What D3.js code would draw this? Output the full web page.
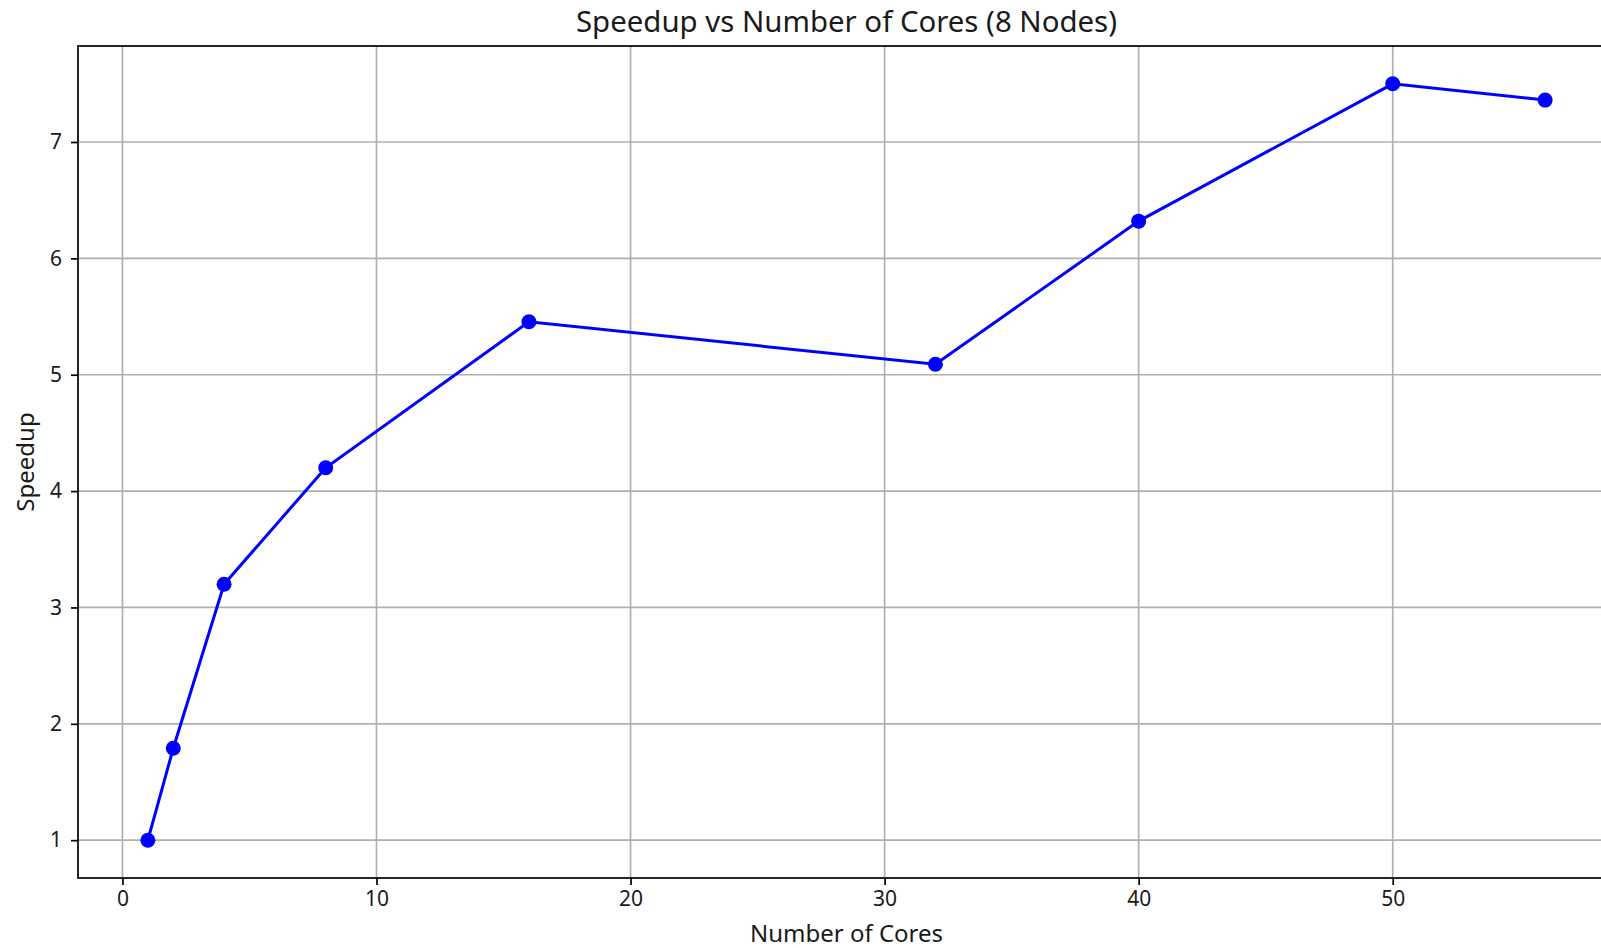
<!DOCTYPE html>
<html><head><meta charset="utf-8">
<script src="https://cdn.jsdelivr.net/npm/d3@7"></script>
<style>
html,body{margin:0;padding:0;background:#fff;overflow:hidden}
text{font-family:"Noto Sans","DejaVu Sans",sans-serif;fill:#1a1a1a}
</style></head>
<body>
<svg id="c" width="1601" height="948"></svg>
<script>
const cores = [1, 2, 4, 8, 16, 32, 40, 50, 56];
const speedup = [1.0, 1.79, 3.2, 4.2, 5.455, 5.09, 6.32, 7.5, 7.36];
const xTicks = [0, 10, 20, 30, 40, 50];
const yTicks = [1, 2, 3, 4, 5, 6, 7];
const titleText = "Speedup vs Number of Cores (8 Nodes)";
const xLabel = "Number of Cores";
const yLabel = "Speedup";

const svg = d3.select("#c");
const L = 78, T = 46, R = 1615, B = 878;
const x = d3.scaleLinear().domain([-1.75, 58.75]).range([L, R]);
const y = d3.scaleLinear().domain([0.675, 7.825]).range([B, T]);

// grid
const g = svg.append("g");
g.selectAll(".gx").data(xTicks).enter().append("line")
  .attr("x1", d => x(d)).attr("x2", d => x(d)).attr("y1", T).attr("y2", B)
  .attr("stroke", "#b0b0b0").attr("stroke-width", 1.7);
g.selectAll(".gy").data(yTicks).enter().append("line")
  .attr("x1", L).attr("x2", R).attr("y1", d => y(d)).attr("y2", d => y(d))
  .attr("stroke", "#b0b0b0").attr("stroke-width", 1.7);

// axes
const xAxis = d3.axisBottom(x).tickValues(xTicks).tickSize(7).tickPadding(6).tickFormat(d3.format("d"));
const yAxis = d3.axisLeft(y).tickValues(yTicks).tickSize(7).tickPadding(9).tickFormat(d3.format("d"));
const ax = svg.append("g").attr("transform", `translate(0,${B})`).call(xAxis);
const ay = svg.append("g").attr("transform", `translate(${L},0)`).call(yAxis);
[ax, ay].forEach(a => {
  a.select(".domain").remove();
  a.selectAll(".tick line").attr("stroke", "#000").attr("stroke-width", 1.7);
  a.selectAll(".tick text").attr("font-size", 21).style("font-family", '"Noto Sans","DejaVu Sans",sans-serif').attr("fill", "#1a1a1a");
});

// spines
svg.append("rect").attr("x", L).attr("y", T).attr("width", R - L).attr("height", B - T)
  .attr("fill", "none").attr("stroke", "#000").attr("stroke-width", 1.7);

// line
const line = d3.line().x((d, i) => x(cores[i])).y(d => y(d));
svg.append("path").datum(speedup).attr("d", line)
  .attr("fill", "none").attr("stroke", "#0000ff").attr("stroke-width", 3);
svg.selectAll(".pt").data(speedup).enter().append("circle")
  .attr("cx", (d, i) => x(cores[i])).attr("cy", d => y(d)).attr("r", 7.5).attr("fill", "#0000ff");

// texts
svg.append("text").attr("x", (L + R) / 2).attr("y", 32).attr("text-anchor", "middle")
  .attr("font-size", 29.4).text(titleText);
svg.append("text").attr("x", (L + R) / 2).attr("y", 942).attr("text-anchor", "middle")
  .attr("font-size", 24).text(xLabel);
svg.append("text").attr("transform", `translate(34,${(T + B) / 2}) rotate(-90)`).attr("text-anchor", "middle")
  .attr("font-size", 24).text(yLabel);
</script>
</body></html>
